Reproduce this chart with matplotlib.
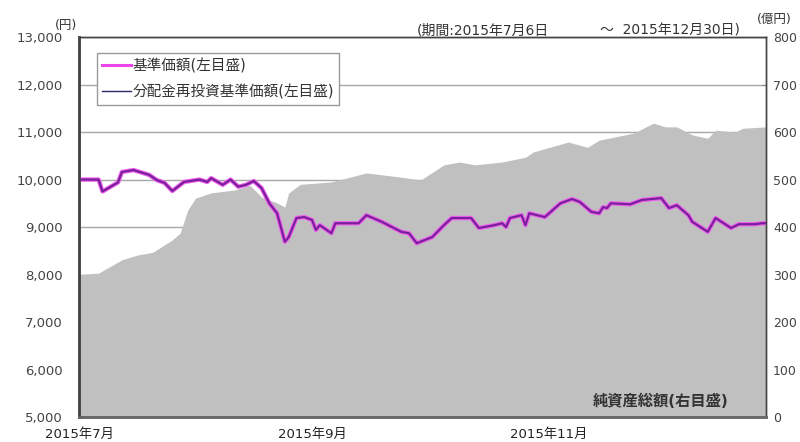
import pandas as pd
import numpy as np
import matplotlib.pyplot as plt
from matplotlib.lines import Line2D

# 数字は DejaVu、漢字は Noto Sans CJK JP
plt.rcParams['font.family'] = ['DejaVu Sans', 'Noto Sans CJK JP']

# 基準価額 (円) - 読み取り値
nav_dates = ['07-06', '07-11', '07-12', '07-16', '07-17', '07-20', '07-24', '07-26',
             '07-28', '07-30', '08-02', '08-06', '08-08', '08-09', '08-12', '08-14',
             '08-16', '08-18', '08-20', '08-22', '08-24', '08-26', '08-28', '08-29',
             '08-31', '09-02', '09-04', '09-05', '09-06', '09-09', '09-10', '09-16',
             '09-18', '09-22', '09-27', '09-29', '10-01', '10-05', '10-08', '10-10',
             '10-15', '10-17', '10-21', '10-23', '10-24', '10-25', '10-28', '10-29',
             '10-30', '11-03', '11-07', '11-10', '11-12', '11-15', '11-17', '11-18',
             '11-19', '11-20', '11-25', '11-28', '12-03', '12-05', '12-07', '12-10',
             '12-11', '12-15', '12-17', '12-21', '12-23', '12-27', '12-29', '12-30']
nav_values = [10000, 10000, 9750, 9940, 10160, 10200, 10100, 9990,
              9930, 9760, 9950, 10000, 9950, 10030, 9890, 10000,
              9850, 9890, 9970, 9820, 9500, 9290, 8690, 8790,
              9190, 9210, 9150, 8940, 9040, 8870, 9080, 9080,
              9250, 9110, 8900, 8870, 8660, 8790, 9040, 9190,
              9190, 8980, 9040, 9080, 9000, 9190, 9250, 9040,
              9290, 9210, 9500, 9590, 9530, 9320, 9290, 9420,
              9400, 9500, 9480, 9570, 9610, 9400, 9460, 9250,
              9110, 8900, 9190, 8980, 9060, 9060, 9080, 9080]

# 純資産総額 (億円)
aum_dates = ['07-06', '07-11', '07-17', '07-21', '07-25', '07-30', '08-01', '08-03',
             '08-05', '08-09', '08-15', '08-19', '08-22', '08-26', '08-28', '08-29',
             '09-01', '09-09', '09-18', '09-27', '10-02', '10-08', '10-12', '10-16',
             '10-23', '10-29', '10-31', '11-09', '11-14', '11-17', '11-26', '12-01',
             '12-04', '12-07', '12-11', '12-15', '12-17', '12-22', '12-24', '12-30']
aum_values = [300, 303, 331, 341, 347, 373, 387, 436,
              461, 472, 478, 488, 463, 451, 442, 472,
              490, 495, 514, 505, 499, 531, 537, 531,
              537, 547, 558, 579, 568, 583, 598, 619,
              611, 611, 594, 587, 604, 600, 608, 611]

month_labels = ['2015年7月', '2015年9月', '2015年11月']
month_pos = ['2015-07-06', '2015-09-04', '2015-11-04']

nav_x = pd.to_datetime(['2015-' + d for d in nav_dates])
aum_x = pd.to_datetime(['2015-' + d for d in aum_dates])

fig = plt.figure(figsize=(8, 4.42), dpi=100)
ax = fig.add_axes([0.099, 0.0566, 0.8585, 0.8594])
ax2 = ax.twinx()

# 純資産総額 (右目盛)
ax2.fill_between(aum_x, aum_values, 0, color='#c0c0c0', lw=0, zorder=2)
ax2.set_ylim(0, 800)
ax2.set_yticks(np.arange(0, 801, 100))
ax2.yaxis.grid(True, color='#a8a8a8', lw=1.0, zorder=0)
ax2.set_axisbelow(True)
ax2.tick_params(axis='y', direction='in', length=3, pad=5, labelsize=9,
                labelcolor='#444444', color='#888888')

ax.set_zorder(ax2.get_zorder() + 1)
ax.patch.set_visible(False)

ax.plot(nav_x, nav_values, color='#f060f0', lw=3.2, solid_joinstyle='round')
ax.plot(nav_x, nav_values, color='#7a1f9a', lw=1.6, solid_joinstyle='round')

ax.set_ylim(5000, 13000)
ax.set_yticks(np.arange(5000, 13001, 1000))
ax.set_yticklabels([f'{v:,}' for v in range(5000, 13001, 1000)])
ax.tick_params(axis='y', length=0, pad=12, labelsize=9.5, labelcolor='#444444')
ax.set_xlim(pd.Timestamp('2015-07-06'), pd.Timestamp('2015-12-30'))
ax.set_xticks([])

for a in (ax, ax2):
    for s in a.spines.values():
        s.set_color('#444444')
        s.set_linewidth(1.0)
    a.spines['left'].set_linewidth(1.8)
    a.spines['bottom'].set_linewidth(1.8)
    a.spines['bottom'].set_color('#666666')

# 凡例
handles = [Line2D([], [], color='#ee44ee', lw=2.2),
           Line2D([], [], color='#2a2a6a', lw=1.0)]
leg = ax.legend(handles, ['基準価額(左目盛)', '分配金再投資基準価額(左目盛)'],
                loc='upper left', bbox_to_anchor=(0.026, 0.958), fontsize=10.5,
                frameon=True, fancybox=False, edgecolor='#999999', framealpha=1,
                handlelength=2.0, handletextpad=0.1, borderpad=0.35,
                labelspacing=0.75, borderaxespad=0)
leg.get_frame().set_linewidth(1.0)
for t in leg.get_texts():
    t.set_color('#333333')

ax.text(0.945, 0.04, '純資産総額(右目盛)', transform=ax.transAxes, ha='right',
        va='center', fontsize=11, fontweight='bold', color='#333333')

# 月ラベル
for lab, d in zip(month_labels, month_pos):
    ax.text(pd.Timestamp(d), -0.045, lab, transform=ax.get_xaxis_transform(),
            ha='center', va='center', fontsize=9.5, color='#222222', clip_on=False)

fig.text(0.083, 0.943, '(円)', fontsize=9, color='#333333', ha='center', va='center')
fig.text(0.521, 0.932, '(期間:2015年7月6日', fontsize=10, color='#333333',
         ha='left', va='center')
fig.text(0.925, 0.932, '～  2015年12月30日)', fontsize=10, color='#333333',
         ha='right', va='center')
fig.text(0.946, 0.955, '(億円)', fontsize=9, color='#333333', ha='left', va='center')

plt.savefig('out.png', dpi=100)
